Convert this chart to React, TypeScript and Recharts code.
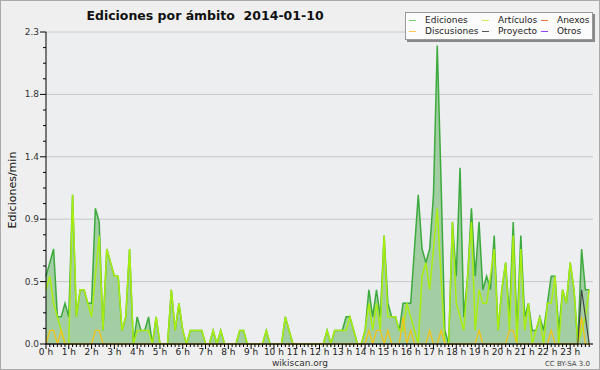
import React from "react";
import { ComposedChart, Area, Line, XAxis, YAxis, CartesianGrid } from "recharts";

const W = 600;
const H = 370;
const Y_MAX = 2.3;

// one value every 10 minutes, 144 per day (edits/min)
const ediciones = [
  0.5, 0.6, 0.7, 0.2, 0.2, 0.3, 0.2, 1.1, 0.2, 0.4, 0.4, 0.3,
  0.3, 1.0, 0.9, 0.1, 0.7, 0.6, 0.5, 0.5, 0.1, 0.2, 0.7, 0.0,
  0.2, 0.1, 0.1, 0.2, 0.0, 0.2, 0.0, 0.0, 0.0, 0.4, 0.1, 0.3,
  0.1, 0.0, 0.1, 0.1, 0.1, 0.1, 0.0, 0.0, 0.1, 0.0, 0.1, 0.0,
  0.0, 0.0, 0.0, 0.1, 0.1, 0.0, 0.0, 0.0, 0.0, 0.0, 0.1, 0.0,
  0.0, 0.0, 0.0, 0.2, 0.1, 0.0, 0.0, 0.0, 0.0, 0.0, 0.0, 0.0,
  0.0, 0.0, 0.1, 0.0, 0.1, 0.1, 0.1, 0.2, 0.2, 0.1, 0.0, 0.0,
  0.1, 0.4, 0.2, 0.4, 0.2, 0.8, 0.3, 0.2, 0.2, 0.1, 0.3, 0.3,
  0.3, 0.7, 1.1, 0.7, 0.6, 0.7, 1.1, 2.2, 1.2, 0.1, 0.0, 0.9,
  0.5, 1.3, 0.2, 0.5, 1.0, 0.5, 0.9, 0.4, 0.5, 0.4, 0.8, 0.1,
  0.4, 0.6, 0.2, 0.9, 0.1, 0.8, 0.2, 0.3, 0.1, 0.1, 0.2, 0.1,
  0.3, 0.5, 0.5, 0.1, 0.4, 0.3, 0.6, 0.4, 0.0, 0.7, 0.4, 0.4,
];

const articulos = [
  0.4, 0.5, 0.3, 0.2, 0.1, 0.0, 0.0, 1.1, 0.2, 0.4, 0.4, 0.3,
  0.2, 0.5, 0.8, 0.1, 0.7, 0.6, 0.5, 0.5, 0.1, 0.2, 0.7, 0.0,
  0.1, 0.1, 0.1, 0.1, 0.0, 0.2, 0.0, 0.0, 0.0, 0.4, 0.1, 0.3,
  0.1, 0.0, 0.1, 0.1, 0.1, 0.1, 0.0, 0.0, 0.1, 0.0, 0.1, 0.0,
  0.0, 0.0, 0.0, 0.1, 0.1, 0.0, 0.0, 0.0, 0.0, 0.0, 0.1, 0.0,
  0.0, 0.0, 0.0, 0.2, 0.1, 0.0, 0.0, 0.0, 0.0, 0.0, 0.0, 0.0,
  0.0, 0.0, 0.1, 0.0, 0.1, 0.1, 0.1, 0.1, 0.2, 0.1, 0.0, 0.0,
  0.1, 0.3, 0.1, 0.3, 0.1, 0.8, 0.2, 0.2, 0.2, 0.1, 0.1, 0.3,
  0.2, 0.1, 0.0, 0.5, 0.6, 0.4, 0.7, 1.0, 0.5, 0.0, 0.0, 0.9,
  0.3, 0.2, 0.1, 0.5, 0.9, 0.1, 0.4, 0.3, 0.3, 0.5, 0.7, 0.1,
  0.4, 0.6, 0.1, 0.8, 0.0, 0.7, 0.1, 0.3, 0.0, 0.1, 0.2, 0.0,
  0.3, 0.3, 0.5, 0.0, 0.4, 0.3, 0.6, 0.4, 0.0, 0.1, 0.2, 0.4,
];

const discusiones = [
  0.0, 0.1, 0.1, 0.0, 0.1, 0.0, 0.0, 0.0, 0.0, 0.0, 0.0, 0.0,
  0.0, 0.1, 0.1, 0.0, 0.0, 0.0, 0.0, 0.0, 0.0, 0.0, 0.0, 0.0,
  0.0, 0.0, 0.0, 0.0, 0.0, 0.0, 0.0, 0.0, 0.0, 0.0, 0.0, 0.0,
  0.0, 0.0, 0.0, 0.0, 0.0, 0.0, 0.0, 0.0, 0.0, 0.0, 0.0, 0.0,
  0.0, 0.0, 0.0, 0.0, 0.0, 0.0, 0.0, 0.0, 0.0, 0.0, 0.0, 0.0,
  0.0, 0.0, 0.0, 0.0, 0.0, 0.0, 0.0, 0.0, 0.0, 0.0, 0.0, 0.0,
  0.0, 0.0, 0.0, 0.0, 0.0, 0.0, 0.0, 0.0, 0.0, 0.0, 0.0, 0.0,
  0.0, 0.1, 0.0, 0.1, 0.1, 0.0, 0.1, 0.0, 0.0, 0.0, 0.2, 0.0,
  0.1, 0.0, 0.0, 0.0, 0.0, 0.1, 0.0, 0.0, 0.1, 0.0, 0.0, 0.0,
  0.0, 0.0, 0.0, 0.0, 0.0, 0.0, 0.1, 0.0, 0.0, 0.0, 0.0, 0.0,
  0.0, 0.0, 0.1, 0.1, 0.0, 0.0, 0.0, 0.0, 0.0, 0.0, 0.0, 0.0,
  0.0, 0.1, 0.0, 0.0, 0.0, 0.0, 0.0, 0.0, 0.0, 0.2, 0.0, 0.0,
];

const proyecto = [
  ...Array(141).fill(0),
  0.4, 0.2, 0.0,
];

const HOUR_LABELS = [
  "0 h", "1 h", "2 h", "3 h", "4 h", "5 h", "6 h", "7 h", "8 h", "9 h", "10 h", "11 h",
  "12 h", "13 h", "14 h", "15 h", "16 h", "17 h", "18 h", "19 h", "20 h", "21 h", "22 h", "23 h",
];

const LEGEND = [
  { name: "Ediciones", color: "#77cc77" },
  { name: "Artículos", color: "#ccee55" },
  { name: "Anexos", color: "#ee7744" },
  { name: "Discusiones", color: "#ffcc44" },
  { name: "Proyecto", color: "#555555" },
  { name: "Otros", color: "#9944ee" },
];

const data = ediciones.map((v, i) => ({
  i,
  ed: v,
  art: articulos[i],
  dis: discusiones[i],
  pro: proyecto[i],
}));

const Y_MAJOR = [0, 1, 2, 3, 4, 5].map((k) => (Y_MAX * k) / 5);
const Y_TICKS = Array.from({ length: 21 }, (_, k) => (Y_MAX * k) / 20);
const X_TICKS = Array.from({ length: 144 }, (_, k) => k);

const FONT = "'DejaVu Sans', sans-serif";

function XTick({ x, y, payload }: any) {
  const v = payload.value as number;
  const major = v % 6 === 0;
  return (
    <g>
      <line x1={x} x2={x} y1={y} y2={y + (major ? 5 : 3)} stroke="#000" strokeWidth={1} />
      {major && (
        <text x={x} y={y + 11} textAnchor="middle" fontSize={9} fill="#222" fontFamily={FONT}>
          {HOUR_LABELS[v / 6]}
        </text>
      )}
    </g>
  );
}

function YTick({ x, y, payload, index }: any) {
  const major = index % 4 === 0;
  return (
    <g>
      <line x1={x - (major ? 6 : 3)} x2={x} y1={y} y2={y} stroke="#000" strokeWidth={1} />
      {major && (
        <text x={x - 7} y={y + 3} textAnchor="end" fontSize={9} fill="#333" fontFamily={FONT}>
          {(payload.value as number).toFixed(1)}
        </text>
      )}
    </g>
  );
}

function Legend() {
  return (
    <div
      style={{
        position: "absolute",
        left: 404,
        top: 11,
        width: 186,
        height: 26,
        background: "#fcfcfc",
        border: "1px solid #999",
        boxShadow: "2px 2px 0 #888",
        fontFamily: FONT,
        fontSize: 9,
        color: "#222",
      }}
    >
      {LEGEND.map((l, k) => {
        const col = k % 3;
        const row = Math.floor(k / 3);
        const left = [3, 76, 135][col];
        return (
          <div
            key={l.name}
            style={{ position: "absolute", left, top: 2 + row * 11, display: "flex", alignItems: "center", whiteSpace: "nowrap", lineHeight: "11px" }}
          >
            <span style={{ display: "inline-block", width: 7, height: 1, background: l.color, marginRight: 9 }} />
            {l.name}
          </div>
        );
      })}
    </div>
  );
}

export default function App() {
  return (
    <div
      style={{
        position: "absolute",
        left: 0,
        top: 0,
        width: W,
        height: H,
        background: "#efefef",
        boxSizing: "border-box",
        border: "1px solid #aaa",
        overflow: "hidden",
      }}
    >
      <div style={{ position: "absolute", left: -1, top: -1 }}>
        <ComposedChart width={W} height={H} data={data} margin={{ top: 32, right: 7, bottom: 0, left: 0 }}>
          <CartesianGrid
            vertical={false}
            stroke="#c8c8c8"
            fill="#eceef0"
            horizontalCoordinatesGenerator={({ offset }: any) =>
              Y_MAJOR.map((v) => offset.top + offset.height * (1 - v / Y_MAX))
            }
          />
          <XAxis
            dataKey="i"
            type="number"
            domain={[0, 144]}
            ticks={X_TICKS}
            interval={0}
            height={26}
            tickSize={0}
            tickMargin={0}
            axisLine={{ stroke: "#000" }}
            tick={<XTick />}
          />
          <YAxis
            type="number"
            domain={[0, Y_MAX]}
            ticks={Y_TICKS}
            interval={0}
            width={46}
            tickSize={0}
            tickMargin={0}
            axisLine={{ stroke: "#000" }}
            tick={<YTick />}
          />
          <Area
            type="linear"
            dataKey="ed"
            stroke="#3daa3d"
            strokeWidth={1.5}
            fill="#96c896"
            fillOpacity={0.85}
            dot={false}
            activeDot={false}
            isAnimationActive={false}
          />
          <Line type="linear" dataKey="art" stroke="#aaee11" strokeWidth={1.5} dot={false} activeDot={false} isAnimationActive={false} />
          <Line type="linear" dataKey="dis" stroke="#f2c417" strokeWidth={1.3} dot={false} activeDot={false} isAnimationActive={false} />
          <Line type="linear" dataKey="pro" stroke="#444" strokeWidth={1.2} dot={false} activeDot={false} isAnimationActive={false} />
        </ComposedChart>
      </div>
      <svg width={W} height={H} style={{ position: "absolute", left: -1, top: -1, pointerEvents: "none" }}>
        <text x={205} y={20} textAnchor="middle" fontSize={12.5} fontWeight="bold" fill="#111" fontFamily={FONT}>
          {"Ediciones por ámbito\u00a0\u00a02014-01-10"}
        </text>
        <text
          x={16}
          y={190}
          transform="rotate(-90 16 190)"
          textAnchor="middle"
          fontSize={11}
          fill="#111"
          fontFamily={FONT}
        >
          Ediciones/min
        </text>
        <text x={300} y={366} textAnchor="middle" fontSize={9} fill="#333" fontFamily={FONT}>
          wikiscan.org
        </text>
        <text x={590} y={366} textAnchor="end" fontSize={7} fill="#444" fontFamily={FONT}>
          CC BY-SA 3.0
        </text>
      </svg>
      <Legend />
    </div>
  );
}
